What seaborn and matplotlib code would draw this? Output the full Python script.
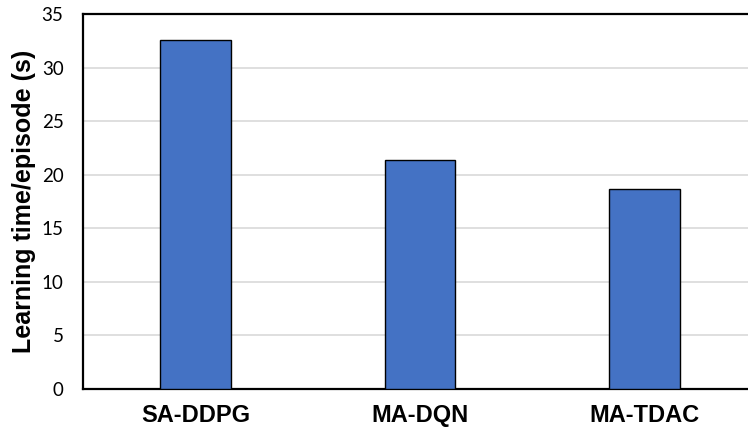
import matplotlib
matplotlib.use("Agg")
import matplotlib.pyplot as plt
import seaborn as sns
import pandas as pd

methods = ["SA-DDPG", "MA-DQN", "MA-TDAC"]
learning_time = [32.6, 21.4, 18.7]
y_ticks = [0, 5, 10, 15, 20, 25, 30, 35]

df = pd.DataFrame({"method": methods, "time": learning_time})

sns.set_theme(style="white")
plt.rcParams["font.family"] = ["Liberation Sans", "DejaVu Sans"]
plt.rcParams["text.color"] = "black"
plt.rcParams["axes.labelcolor"] = "black"
plt.rcParams["xtick.color"] = "black"
plt.rcParams["ytick.color"] = "black"

fig = plt.figure(figsize=(7.48, 4.30), dpi=100)
ax = fig.add_axes([83 / 748, 1 - 389 / 430, 674 / 748, 375 / 430])

sns.barplot(data=df, x="method", y="time", color="#4472C4", width=0.316,
            edgecolor="black", linewidth=1.0, saturation=1, ax=ax, zorder=3)

ax.set_ylim(0, 35)
ax.set_yticks(y_ticks)
ax.set_yticklabels([str(t) for t in y_ticks], fontsize=13.5, family="Lato")
ax.yaxis.grid(True, color="#d9d9d9", linewidth=1.2, zorder=0)
ax.set_axisbelow(True)
ax.tick_params(axis="both", length=0)
ax.tick_params(axis="y", pad=14)
ax.tick_params(axis="x", pad=11)
for lbl in ax.get_xticklabels():
    lbl.set_fontweight("bold")
    lbl.set_fontsize(17)
    lbl.set_family("Liberation Sans")

ax.set_xlabel("")
ax.set_ylabel("Learning time/episode (s)", fontsize=18, fontweight="bold",
              family="Liberation Sans", labelpad=4)

for side in ["left", "bottom", "top"]:
    ax.spines[side].set_visible(True)
    ax.spines[side].set_color("black")
    ax.spines[side].set_linewidth(1.6)
ax.spines["right"].set_visible(False)

fig.savefig("out.png", dpi=100)
